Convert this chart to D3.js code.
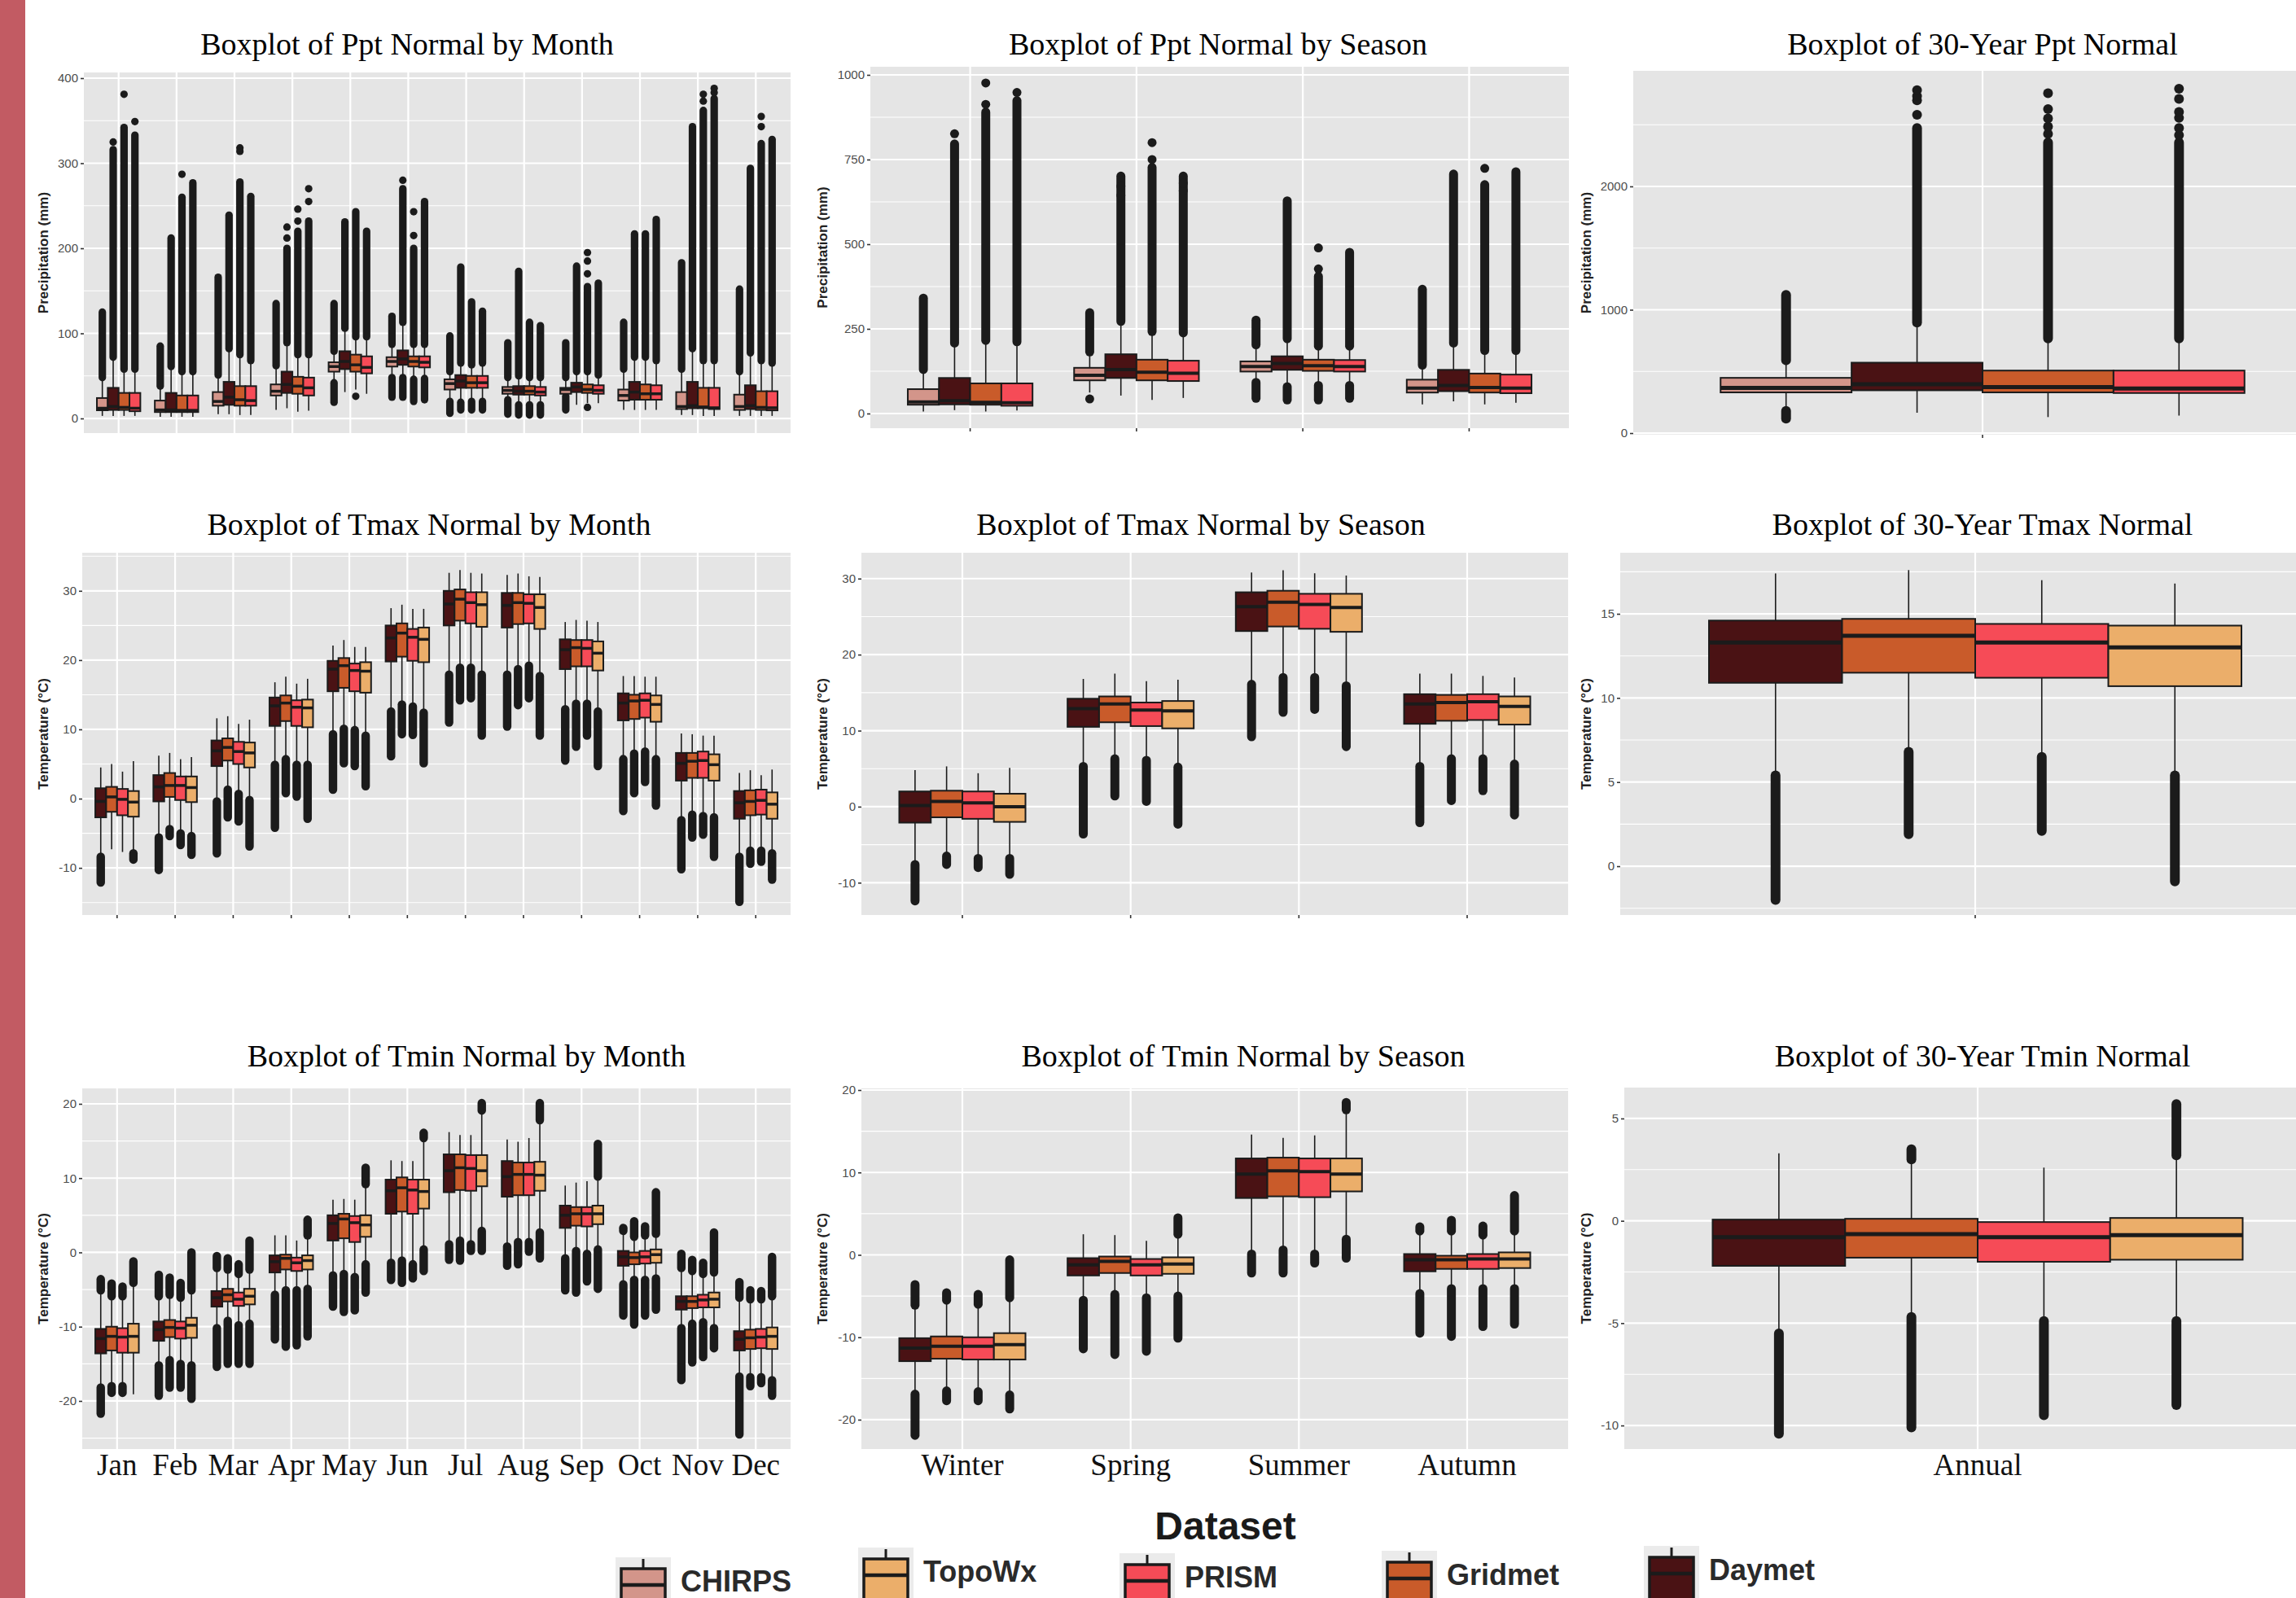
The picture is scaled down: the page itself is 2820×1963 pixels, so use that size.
<!DOCTYPE html>
<html>
<head>
<meta charset="utf-8">
<script src="https://cdn.jsdelivr.net/npm/d3@7"></script>
<style>
  html, body { margin: 0; padding: 0; background: #fff; }
  svg { display: block; }
</style>
</head>
<body>
<svg id="chart" width="2820" height="1963"></svg>
<script>
// Categories and datasets
var months = ["Jan","Feb","Mar","Apr","May","Jun","Jul","Aug","Sep","Oct","Nov","Dec"];
var seasons = ["Winter","Spring","Summer","Autumn"];
var annual = ["Annual"];
var pptSets = ["CHIRPS","Daymet","Gridmet","PRISM"];
var tempSets = ["Daymet","Gridmet","PRISM","TopoWx"];
var legendSets = ["CHIRPS","TopoWx","PRISM","Gridmet","Daymet"];

// each box: [lower whisker, q1, median, q3, upper whisker, lowest outlier, highest outlier]
var pptMonth = [
  [[3,9.6,12,24,48,null,125],[3,10,14,36,72,null,316],[3,10,13,30,58,null,342],[3,8.5,12,30,58,null,333]],
  [[2,7.5,10,21,38,null,85],[2,7.5,10,30,61,null,212],[2,7.5,9.5,27,55,null,260],[2,7.5,9.5,27,55,null,277]],
  [[5,15,20,31,51,null,166],[5,16,25,43,82,null,239],[4,15,22,38,75,null,278],[4,15,21,38,68,null,261]],
  [[10,27,32,40,62,null,135],[12,30,40,55,89,null,200],[8,29,38,49,75,null,220],[9,27,36,48,75,null,232]],
  [[42,55,61,66,79,19,135],[31,58,67,79,106,null,231],[34,55,63,75,96,null,243],[29,53,60,73,96,null,220]],
  [[48,61,67,72,87,25,120],[48,63,70,80,113,25,270],[46,61,67,73,87,20,200],[47,60,66,73,87,22,255]],
  [[20,34,41,46,55,6,97],[19,36,44,51,65,10,178],[20,36,42,50,63,10,137],[20,36,42,50,65,10,126]],
  [[22,29,33,37,48,5,89],[16,28,32,38,50,4,173],[16,28,32,38,48,4,113],[16,27,31,37,48,4,109]],
  [[26,29,34,36,48,10,89],[16,31,37,42,55,null,179],[18,30,34,40,55,null,155],[18,29,33,39,51,null,159]],
  [[10,21,27,34,58,null,113],[10,22,31,43,72,null,217],[10,22,29,40,72,null,217],[10,22,29,39,68,null,234]],
  [[4,11,14,31,58,null,183],[4,12,15,43,82,null,343],[3,12,13.5,36,68,null,362],[3,11,12.5,36,68,null,376]],
  [[3,10,14,28,55,null,152],[3,11,15,39,77,null,294],[3,10,13,32,68,null,323],[3,9.5,12.5,32,65,null,328]]
];
// isolated outliers: [category, dataset, value]
var pptMonthExtra = [[0,1,325],[0,2,381],[0,3,349],[1,2,287],[2,2,314],[2,2,318],[3,1,212],[3,1,225],
  [3,2,232],[3,2,246],[3,3,255],[3,3,270],[4,2,26],[5,1,280],[5,2,215],[5,2,243],[8,2,13],[8,2,170],
  [8,2,185],[8,2,195],[10,2,373],[10,2,381],[10,3,383],[10,3,388],[11,2,343],[11,2,355]];

var pptSeason = [
  [[6,26,34,72,130,null,341],[10,27,38,105,208,null,796],[6,26,33,89,216,null,890],[9,23,32,89,212,null,924]],
  [[62,98,113,135,182,null,298],[53,105,130,175,272,null,701],[40,98,122,159,242,null,727],[46,96,119,156,238,null,701]],
  [[92,124,139,154,203,45,276],[79,129,148,169,221,40,628],[83,126,141,159,199,40,405],[83,124,139,158,199,45,476]],
  [[27,62,75,100,143,null,367],[36,66,83,129,208,null,707],[27,62,77,118,186,null,676],[32,60,75,115,186,null,714]]
];
var pptSeasonExtra = [[0,1,826],[0,2,913],[0,2,976],[0,3,948],[1,0,43],[1,1,644],[1,1,671],[1,2,750],
  [1,2,800],[1,3,658],[1,3,680],[2,2,427],[2,2,489],[3,2,724]];

var pptAnnual = [
  [[180,330,366,448,590,118,1120],[165,347,396,571,896,null,2473],[130,330,373,507,767,null,2356],[142,325,361,507,767,null,2356]]
];
var pptAnnualExtra = [[0,1,2580],[0,1,2697],[0,1,2733],[0,1,2780],[0,2,2426],[0,2,2485],[0,2,2551],
  [0,2,2627],[0,2,2756],[0,3,2415],[0,3,2473],[0,3,2556],[0,3,2603],[0,3,2709],[0,3,2792]];

var tmaxMonth = [
  [[-8.4,-2.7,-0.4,1.5,4.5,-12.1,null],[-7.3,-1.9,0.25,1.7,5,null,null],[-7.7,-2.4,-0.1,1.4,3.9,null,null],[-7.9,-2.6,-0.5,1.1,5.4,-8.8,null]],
  [[-5.6,-0.4,1.7,3.4,6.2,-10.3,null],[-4.4,0.25,1.9,3.7,6.6,-5.4,null],[-5,-0.2,1.9,3.2,5.7,-6.7,null],[-5.4,-0.5,1.6,3.2,6,-8.1,null]],
  [[-0.4,4.7,6.9,8.4,11.6,-7.9,null],[1.3,5.5,7.4,8.7,11.9,-2.7,null],[0.7,5,6.8,8.2,10.8,-3.3,null],[-0.2,4.5,6.6,8.1,11.4,-6.9,null]],
  [[4.9,10.5,13.4,14.6,16.8,-4.2,null],[5.7,11.2,13.8,14.9,17.6,0.8,null],[4.9,10.5,13.2,14.2,16.6,0.3,null],[4.9,10.3,13.1,14.3,17.3,-2.9,null]],
  [[9.3,15.5,18.7,19.9,22.1,1.3,null],[10.1,16,19.2,20.3,22.9,5.1,null],[9.9,15.5,18.5,19.5,21.9,4.7,null],[9.1,15.3,18.4,19.7,21.9,1.8,null]],
  [[12.6,19.8,23.2,25,27.5,6.1,null],[13.6,20.5,23.9,25.3,28,9.3,null],[13.3,19.9,23.3,24.5,27.4,9.2,null],[12.4,19.7,23,24.7,27.4,5.1,null]],
  [[17.9,25,28.1,30,32.6,11,null],[18.9,25.7,28.8,30.2,33,14.2,null],[18.9,25.3,28.3,29.8,32.6,14.5,null],[17.9,24.8,28,29.8,32.5,9.1,null]],
  [[17.9,24.7,27.9,29.7,32.3,10.4,null],[18.7,25.2,28.3,29.7,32.5,13.5,null],[19.2,25.3,28.2,29.5,32.1,14.5,null],[17.7,24.5,27.6,29.5,32,9.1,null]],
  [[12.9,18.7,21.5,23,25.5,5.5,null],[13.7,19.1,21.8,22.9,25.8,7.5,null],[13.7,19.1,21.7,22.9,25.7,9.1,null],[12.6,18.5,21,22.7,25.5,4.7,null]],
  [[5.7,11.3,13.8,15.2,17.7,-1.8,null],[6.5,11.5,14.1,15,17.7,0.8,null],[6.8,11.7,14.2,15.2,17.6,2.4,null],[5.7,11.1,13.6,14.9,17.6,-1,null]],
  [[-3.1,2.6,5.1,6.6,9.4,-10.2,null],[-2.3,3,5.4,6.6,9.3,-5.6,null],[-2.5,3,5.5,6.8,9.1,-5.2,null],[-2.7,2.6,4.9,6.4,9.1,-8.4,null]],
  [[-8.4,-2.9,-0.6,1.1,3.7,-14.9,null],[-7.5,-2.4,-0.4,1.2,4.1,-9.4,null],[-7.5,-2.3,-0.25,1.3,3.4,-9.1,null],[-7.9,-2.9,-0.8,0.9,4.2,-11.7,null]]
];

var tmaxSeason = [
  [[-7.6,-2.1,0.15,2,4.8,-12.4,null],[-6.5,-1.4,0.7,2.1,5.3,-7.6,null],[-6.8,-1.6,0.5,2,4.4,-8,null],[-6.8,-2,0,1.7,5.1,-8.9,null]],
  [[5.3,10.5,12.9,14.2,16.8,-3.6,null],[6.3,11.1,13.5,14.5,17.5,1.4,null],[6.1,10.6,12.7,13.7,16.5,0.7,null],[5.2,10.3,12.6,13.9,16.7,-2.3,null]],
  [[16.1,23.1,26.3,28.2,30.8,9.2,null],[17,23.7,26.9,28.4,31.1,12.4,null],[17,23.4,26.6,28,30.7,12.8,null],[15.9,23,26.2,28,30.4,7.9,null]],
  [[5.3,10.9,13.5,14.8,17.5,-2.1,null],[6.3,11.3,13.7,14.7,17.5,0.8,null],[6.3,11.4,13.8,14.8,17.2,2.1,null],[5.6,10.8,13.2,14.5,17,-1.1,null]]
];

var tmaxAnnual = [
  [[5.4,10.9,13.3,14.6,17.4,-2,null],[6.8,11.5,13.7,14.7,17.6,1.9,null],[6.5,11.2,13.3,14.4,17,2.1,null],[5.4,10.7,13,14.3,16.8,-0.9,null]]
];

var tminMonth = [
  [[-18.2,-13.6,-11.6,-10.3,-5.1,-21.7,-3.6],[-18,-13.2,-11.3,-10,-5.9,-18.9,-4.2],[-18,-13.5,-11.4,-10.2,-5.9,-18.9,-4.6],[-19.1,-13.5,-11.3,-9.6,-4.1,null,-1.2]],
  [[-15.2,-11.9,-10.4,-9.3,-5.9,-19.3,-3],[-14.5,-11.4,-10.1,-9.1,-5.7,-18.2,-3.4],[-15,-11.6,-10.2,-9.3,-6.1,-18.2,-4.1],[-15.2,-11.5,-9.8,-8.8,-5.1,-19.7,0]],
  [[-10.2,-7.3,-6.1,-5.2,-2.1,-15.4,-0.5],[-9.2,-6.6,-5.7,-4.9,-2.3,-15,-0.8],[-9.8,-7.2,-6.3,-5.4,-2.9,-15,-1.6],[-9.6,-7,-5.9,-4.9,-2.3,-15,1.6]],
  [[-5.7,-2.7,-1.25,-0.4,2.3,-11.7,null],[-5.1,-2.3,-0.8,-0.3,2.3,-12.7,null],[-5.1,-2.5,-1.4,-0.7,1.6,-12.5,null],[-4.9,-2.3,-1.1,-0.4,2.3,-11.3,4.4]],
  [[-3.1,1.6,3.9,5,7.1,-7.3,null],[-2.9,1.9,4.5,5.2,7.2,-8,null],[-3.3,1.4,4,4.9,7.1,-7.8,null],[-1.6,2.1,3.7,5,9.2,-5.4,11.4]],
  [[-1.4,5.2,8.3,9.8,12.4,-3.7,null],[-1.1,5.5,8.7,10.1,12.3,-4.1,null],[-1.6,5.2,8.4,9.8,12.3,-3.5,null],[0.4,5.9,8.2,9.8,15.4,-2.5,16.1]],
  [[1.1,8.1,11,13.2,16.2,-1,null],[1.6,8.4,11.4,13.2,15.8,-1.1,null],[1.1,8.3,11.3,13.1,15.8,0.2,null],[2.9,8.9,11,13.1,19.1,0.2,20.1]],
  [[0.8,7.5,10.2,12.3,15.2,-1.8,null],[1.4,7.7,10.5,12.1,14.9,-1.6,null],[1.4,7.7,10.5,12.1,15.4,0.1,null],[2.7,8.3,10.4,12.2,17.8,-0.8,20.1]],
  [[-0.8,3.3,5,6.3,9,-5.1,null],[0.2,3.6,5.2,6.1,9.4,-5.4,null],[-0.2,3.5,5.2,6.1,9.6,-3.9,null],[0.4,3.8,5.2,6.3,10.2,-4.9,14.6]],
  [[-4.3,-1.8,-0.6,0.2,2.9,-8.5,3.3],[-3.7,-1.6,-0.7,0,2.1,-9.7,4.2],[-3.7,-1.5,-0.6,0.2,2.3,-8.5,3.5],[-3.5,-1.4,-0.3,0.4,2.5,-7.7,8.1]],
  [[-10.2,-7.7,-6.6,-5.9,-2.1,-17.2,-0.2],[-9.6,-7.5,-6.6,-5.9,-2.5,-14.8,-1],[-9.4,-7.4,-6.4,-5.7,-2.9,-14.1,-1.4],[-10.2,-7.4,-6.3,-5.4,-2.7,-12.9,2.7]],
  [[-16.7,-13.2,-11.7,-10.6,-6.1,-24.5,-4],[-16.8,-13,-11.5,-10.4,-6.3,-18,-5.1],[-16.8,-12.9,-11.4,-10.3,-6.3,-17.6,-5.2],[-17.2,-13,-11.3,-10.1,-5.9,-19.3,-0.6]]
];

var tminSeason = [
  [[-16.9,-12.9,-11.3,-10.1,-6.1,-21.9,-3.6],[-16.5,-12.6,-11.1,-9.9,-5.5,-17.7,-4.6],[-16.6,-12.7,-11.1,-10,-6,-17.7,-4.8],[-17,-12.7,-10.9,-9.5,-5.2,-18.7,-0.6]],
  [[-5.5,-2.5,-1.2,-0.4,2.5,-11.4,null],[-4.8,-2.2,-0.8,-0.2,2.4,-12.1,null],[-5.2,-2.5,-1.2,-0.5,1.7,-11.7,null],[-5,-2.3,-1.1,-0.3,2.5,-10.1,4.5]],
  [[0.1,6.9,9.8,11.7,14.6,-2.2,null],[0.6,7.1,10.2,11.8,14.2,-2.2,null],[0.1,7,10.1,11.7,14.5,-1,null],[1.9,7.7,9.8,11.7,17.6,-0.4,18.5]],
  [[-4.7,-2,-0.6,0.1,2.9,-9.5,3.4],[-4.1,-1.7,-0.6,-0.1,2.9,-9.9,4.2],[-4.1,-1.7,-0.5,0.1,2.4,-8.7,3.5],[-4.1,-1.6,-0.5,0.3,2.9,-8.4,7.2]]
];

var tminAnnual = [
  [[-5.5,-2.2,-0.8,0.06,3.3,-10.4,null],[-4.7,-1.8,-0.65,0.1,3,-10.1,3.5],[-4.9,-2,-0.8,-0.06,2.6,-9.5,null],[-4.9,-1.9,-0.7,0.14,3.2,-9,5.7]]
];

// Colours
var color = d3.scaleOrdinal()
  .domain(["CHIRPS","Daymet","Gridmet","PRISM","TopoWx"])
  .range(["#D3958A","#4A1214","#C95B2A","#F64B57","#EBAE6A"]);

var ink = "#1b1b1b";
var svg = d3.select("#chart");

svg.append("rect").attr("x", 0).attr("y", 0).attr("width", 2820).attr("height", 1963).attr("fill", "#fff");
// red strip on the left edge
svg.append("rect").attr("x", 0).attr("y", 0).attr("width", 31).attr("height", 1963).attr("fill", "#C25B63");

// Panel layout
var panels = [
  {title: "Boxplot of Ppt Normal by Month", cats: months, sets: pptSets, rows: pptMonth, extra: pptMonthExtra,
   x0: 103, x1: 971, y0: 89, y1: 532, dom: [-17.2, 406.7], ticks: [0,100,200,300,400], minor: [50,150,250,350],
   ylab: "Precipitation (mm)", labX: 53, titleX: 500, titleY: 67, dodge: 0.75, r: 4.6, med: 3.5, xticks: false, xlab: false},
  {title: "Boxplot of Ppt Normal by Season", cats: seasons, sets: pptSets, rows: pptSeason, extra: pptSeasonExtra,
   x0: 1069, x1: 1927, y0: 82, y1: 526, dom: [-43.3, 1024], ticks: [0,250,500,750,1000], minor: [125,375,625,875],
   ylab: "Precipitation (mm)", labX: 1010, titleX: 1496, titleY: 67, dodge: 0.75, r: 5.5, med: 4, xticks: true, xlab: false},
  {title: "Boxplot of 30-Year Ppt Normal", cats: annual, sets: pptSets, rows: pptAnnual, extra: pptAnnualExtra,
   x0: 2006, x1: 2864, y0: 87, y1: 534, dom: [-13, 2937], ticks: [0,1000,2000], minor: [500,1500,2500],
   ylab: "Precipitation (mm)", labX: 1948, titleX: 2435, titleY: 67, dodge: 0.9, r: 6, med: 5, xticks: true, xlab: false},
  {title: "Boxplot of Tmax Normal by Month", cats: months, sets: tempSets, rows: tmaxMonth, extra: [],
   x0: 101, x1: 971, y0: 679, y1: 1124, dom: [-16.8, 35.5], ticks: [-10,0,10,20,30], minor: [-15,-5,5,15,25,35],
   ylab: "Temperature (°C)", labX: 53, titleX: 527, titleY: 657, dodge: 0.75, r: 5.2, med: 3.5, xticks: true, xlab: false},
  {title: "Boxplot of Tmax Normal by Season", cats: seasons, sets: tempSets, rows: tmaxSeason, extra: [],
   x0: 1058, x1: 1926, y0: 679, y1: 1124, dom: [-14.25, 33.4], ticks: [-10,0,10,20,30], minor: [-5,5,15,25],
   ylab: "Temperature (°C)", labX: 1010, titleX: 1475, titleY: 657, dodge: 0.75, r: 5.5, med: 4, xticks: true, xlab: false},
  {title: "Boxplot of 30-Year Tmax Normal", cats: annual, sets: tempSets, rows: tmaxAnnual, extra: [],
   x0: 1990, x1: 2862, y0: 679, y1: 1124, dom: [-2.9, 18.63], ticks: [0,5,10,15], minor: [-2.5,2.5,7.5,12.5,17.5],
   ylab: "Temperature (°C)", labX: 1948, titleX: 2435, titleY: 657, dodge: 0.9, r: 6, med: 5, xticks: true, xlab: false},
  {title: "Boxplot of Tmin Normal by Month", cats: months, sets: tempSets, rows: tminMonth, extra: [],
   x0: 101, x1: 971, y0: 1337, y1: 1780, dom: [-26.47, 22.08], ticks: [-20,-10,0,10,20], minor: [-25,-15,-5,5,15],
   ylab: "Temperature (°C)", labX: 53, titleX: 573, titleY: 1310, dodge: 0.75, r: 5.2, med: 3.5, xticks: false, xlab: true},
  {title: "Boxplot of Tmin Normal by Season", cats: seasons, sets: tempSets, rows: tminSeason, extra: [],
   x0: 1058, x1: 1926, y0: 1337, y1: 1780, dom: [-23.56, 20.2], ticks: [-20,-10,0,10,20], minor: [-15,-5,5,15],
   ylab: "Temperature (°C)", labX: 1010, titleX: 1527, titleY: 1310, dodge: 0.75, r: 5.5, med: 4, xticks: false, xlab: true},
  {title: "Boxplot of 30-Year Tmin Normal", cats: annual, sets: tempSets, rows: tminAnnual, extra: [],
   x0: 1995, x1: 2863, y0: 1336, y1: 1780, dom: [-11.15, 6.51], ticks: [-10,-5,0,5], minor: [-7.5,-2.5,2.5],
   ylab: "Temperature (°C)", labX: 1948, titleX: 2435, titleY: 1310, dodge: 0.9, r: 6, med: 5, xticks: false, xlab: true}
];

panels.forEach(function(p) {
  var g = svg.append("g");
  var n = p.cats.length, k = p.sets.length;
  var x = d3.scaleLinear().domain([0.4, n + 0.6]).range([p.x0, p.x1]);
  var y = d3.scaleLinear().domain(p.dom).range([p.y1, p.y0]);
  var bw = p.dodge / k;

  // title
  g.append("text")
    .attr("x", p.titleX).attr("y", p.titleY)
    .attr("text-anchor", "middle")
    .style("font-family", "'Liberation Serif', 'Times New Roman', serif")
    .style("font-size", "38px").style("fill", "#000")
    .text(p.title);

  // panel background and grid
  g.append("rect")
    .attr("x", p.x0).attr("y", p.y0)
    .attr("width", p.x1 - p.x0).attr("height", p.y1 - p.y0)
    .attr("fill", "#E5E5E5");

  g.selectAll(".minor").data(p.minor).enter().append("line")
    .attr("x1", p.x0).attr("x2", p.x1)
    .attr("y1", function(d){ return y(d) }).attr("y2", function(d){ return y(d) })
    .attr("stroke", "#fff").attr("stroke-width", 1.1);

  g.selectAll(".major").data(p.ticks).enter().append("line")
    .attr("x1", p.x0).attr("x2", p.x1)
    .attr("y1", function(d){ return y(d) }).attr("y2", function(d){ return y(d) })
    .attr("stroke", "#fff").attr("stroke-width", 2.2);

  g.selectAll(".vgrid").data(d3.range(1, n + 1)).enter().append("line")
    .attr("x1", function(d){ return x(d) }).attr("x2", function(d){ return x(d) })
    .attr("y1", p.y0).attr("y2", p.y1)
    .attr("stroke", "#fff").attr("stroke-width", 2.2);

  // y axis
  var ax = g.append("g")
    .attr("transform", "translate(" + p.x0 + ",0)")
    .call(d3.axisLeft(y).tickValues(p.ticks).tickSize(4).tickPadding(3).tickFormat(function(d){ return String(d) }));
  ax.select(".domain").remove();
  ax.selectAll(".tick line").attr("stroke", "#333").attr("stroke-width", 1.6);
  ax.selectAll(".tick text")
    .style("font-family", "'Liberation Sans', Arial, sans-serif")
    .style("font-size", "15px").style("fill", "#4D4D4D");

  g.append("text")
    .attr("transform", "translate(" + p.labX + "," + ((p.y0 + p.y1) / 2) + ") rotate(-90)")
    .attr("text-anchor", "middle").attr("dy", "0.35em")
    .style("font-family", "'Liberation Sans', Arial, sans-serif")
    .style("font-weight", "bold").style("font-size", "17px").style("fill", "#222")
    .text(p.ylab);

  // x ticks and labels
  if (p.xticks) {
    g.selectAll(".xt").data(d3.range(1, n + 1)).enter().append("line")
      .attr("x1", function(d){ return x(d) }).attr("x2", function(d){ return x(d) })
      .attr("y1", p.y1).attr("y2", p.y1 + 4)
      .attr("stroke", "#333").attr("stroke-width", 1.6);
  }
  if (p.xlab) {
    g.selectAll(".xl").data(p.cats).enter().append("text")
      .attr("x", function(d, i){ return x(i + 1) })
      .attr("y", 1812)
      .attr("text-anchor", "middle")
      .style("font-family", "'Liberation Serif', 'Times New Roman', serif")
      .style("font-size", "37px").style("fill", "#111")
      .text(function(d){ return d });
  }

  // boxes
  var flat = [];
  p.rows.forEach(function(row, ci) {
    row.forEach(function(s, si) { flat.push({ci: ci, si: si, s: s, set: p.sets[si]}) });
  });
  var cx = function(d){ return x(d.ci + 1 + (d.si - (k - 1) / 2) * bw) };
  var half = x(bw / 2) - x(0);

  var clip = "clip" + p.x0 + "_" + p.y0;
  svg.append("clipPath").attr("id", clip).append("rect")
    .attr("x", p.x0).attr("y", p.y0).attr("width", p.x1 - p.x0).attr("height", p.y1 - p.y0);
  var marks = g.append("g").attr("clip-path", "url(#" + clip + ")");

  // whiskers
  marks.selectAll(".wlo").data(flat).enter().append("line")
    .attr("x1", cx).attr("x2", cx)
    .attr("y1", function(d){ return y(d.s[0]) }).attr("y2", function(d){ return y(d.s[1]) })
    .attr("stroke", ink).attr("stroke-width", 1.6);
  marks.selectAll(".whi").data(flat).enter().append("line")
    .attr("x1", cx).attr("x2", cx)
    .attr("y1", function(d){ return y(d.s[3]) }).attr("y2", function(d){ return y(d.s[4]) })
    .attr("stroke", ink).attr("stroke-width", 1.6);

  // dense outlier columns
  marks.selectAll(".olo").data(flat.filter(function(d){ return d.s[5] != null })).enter().append("line")
    .attr("x1", cx).attr("x2", cx)
    .attr("y1", function(d){ return y(d.s[0]) }).attr("y2", function(d){ return y(d.s[5]) })
    .attr("stroke", ink).attr("stroke-width", p.r * 2).attr("stroke-linecap", "round");
  marks.selectAll(".ohi").data(flat.filter(function(d){ return d.s[6] != null })).enter().append("line")
    .attr("x1", cx).attr("x2", cx)
    .attr("y1", function(d){ return y(d.s[4]) }).attr("y2", function(d){ return y(d.s[6]) })
    .attr("stroke", ink).attr("stroke-width", p.r * 2).attr("stroke-linecap", "round");

  // isolated outliers
  marks.selectAll(".dot").data(p.extra).enter().append("circle")
    .attr("cx", function(d){ return x(d[0] + 1 + (d[1] - (k - 1) / 2) * bw) })
    .attr("cy", function(d){ return y(d[2]) })
    .attr("r", p.r).attr("fill", ink);

  // box bodies
  marks.selectAll(".box").data(flat).enter().append("rect")
    .attr("x", function(d){ return cx(d) - half })
    .attr("y", function(d){ return y(d.s[3]) })
    .attr("width", half * 2)
    .attr("height", function(d){ return y(d.s[1]) - y(d.s[3]) })
    .attr("fill", function(d){ return color(d.set) })
    .attr("stroke", ink).attr("stroke-width", 2);

  // medians
  marks.selectAll(".med").data(flat).enter().append("line")
    .attr("x1", function(d){ return cx(d) - half }).attr("x2", function(d){ return cx(d) + half })
    .attr("y1", function(d){ return y(d.s[2]) }).attr("y2", function(d){ return y(d.s[2]) })
    .attr("stroke", ink).attr("stroke-width", p.med);
});

// Legend
var keyX = [756, 1054, 1375, 1697, 2019];
var keyTop = [1913, 1901, 1908, 1905, 1899];

svg.append("text")
  .attr("x", 1505).attr("y", 1891)
  .attr("text-anchor", "middle")
  .style("font-family", "'Liberation Sans', Arial, sans-serif")
  .style("font-weight", "bold").style("font-size", "48px").style("fill", "#1a1a1a")
  .text("Dataset");

var items = svg.selectAll(".legend").data(legendSets).enter().append("g")
  .attr("transform", function(d, i){ return "translate(" + keyX[i] + "," + keyTop[i] + ")" });

items.append("rect").attr("x", 0).attr("y", 0).attr("width", 68).attr("height", 80).attr("fill", "#EBEBEB");
items.append("line").attr("x1", 34).attr("x2", 34).attr("y1", 2).attr("y2", 14)
  .attr("stroke", ink).attr("stroke-width", 3);
items.append("rect").attr("x", 7).attr("y", 14).attr("width", 54).attr("height", 60)
  .attr("fill", function(d){ return color(d) }).attr("stroke", ink).attr("stroke-width", 3.5);
items.append("line").attr("x1", 7).attr("x2", 61).attr("y1", 34).attr("y2", 34)
  .attr("stroke", ink).attr("stroke-width", 4.5);
items.append("text")
  .attr("x", 80).attr("y", 42)
  .style("font-family", "'Liberation Sans', Arial, sans-serif")
  .style("font-weight", "bold").style("font-size", "36px").style("fill", "#2a2a2a")
  .text(function(d){ return d });
</script>
</body>
</html>
